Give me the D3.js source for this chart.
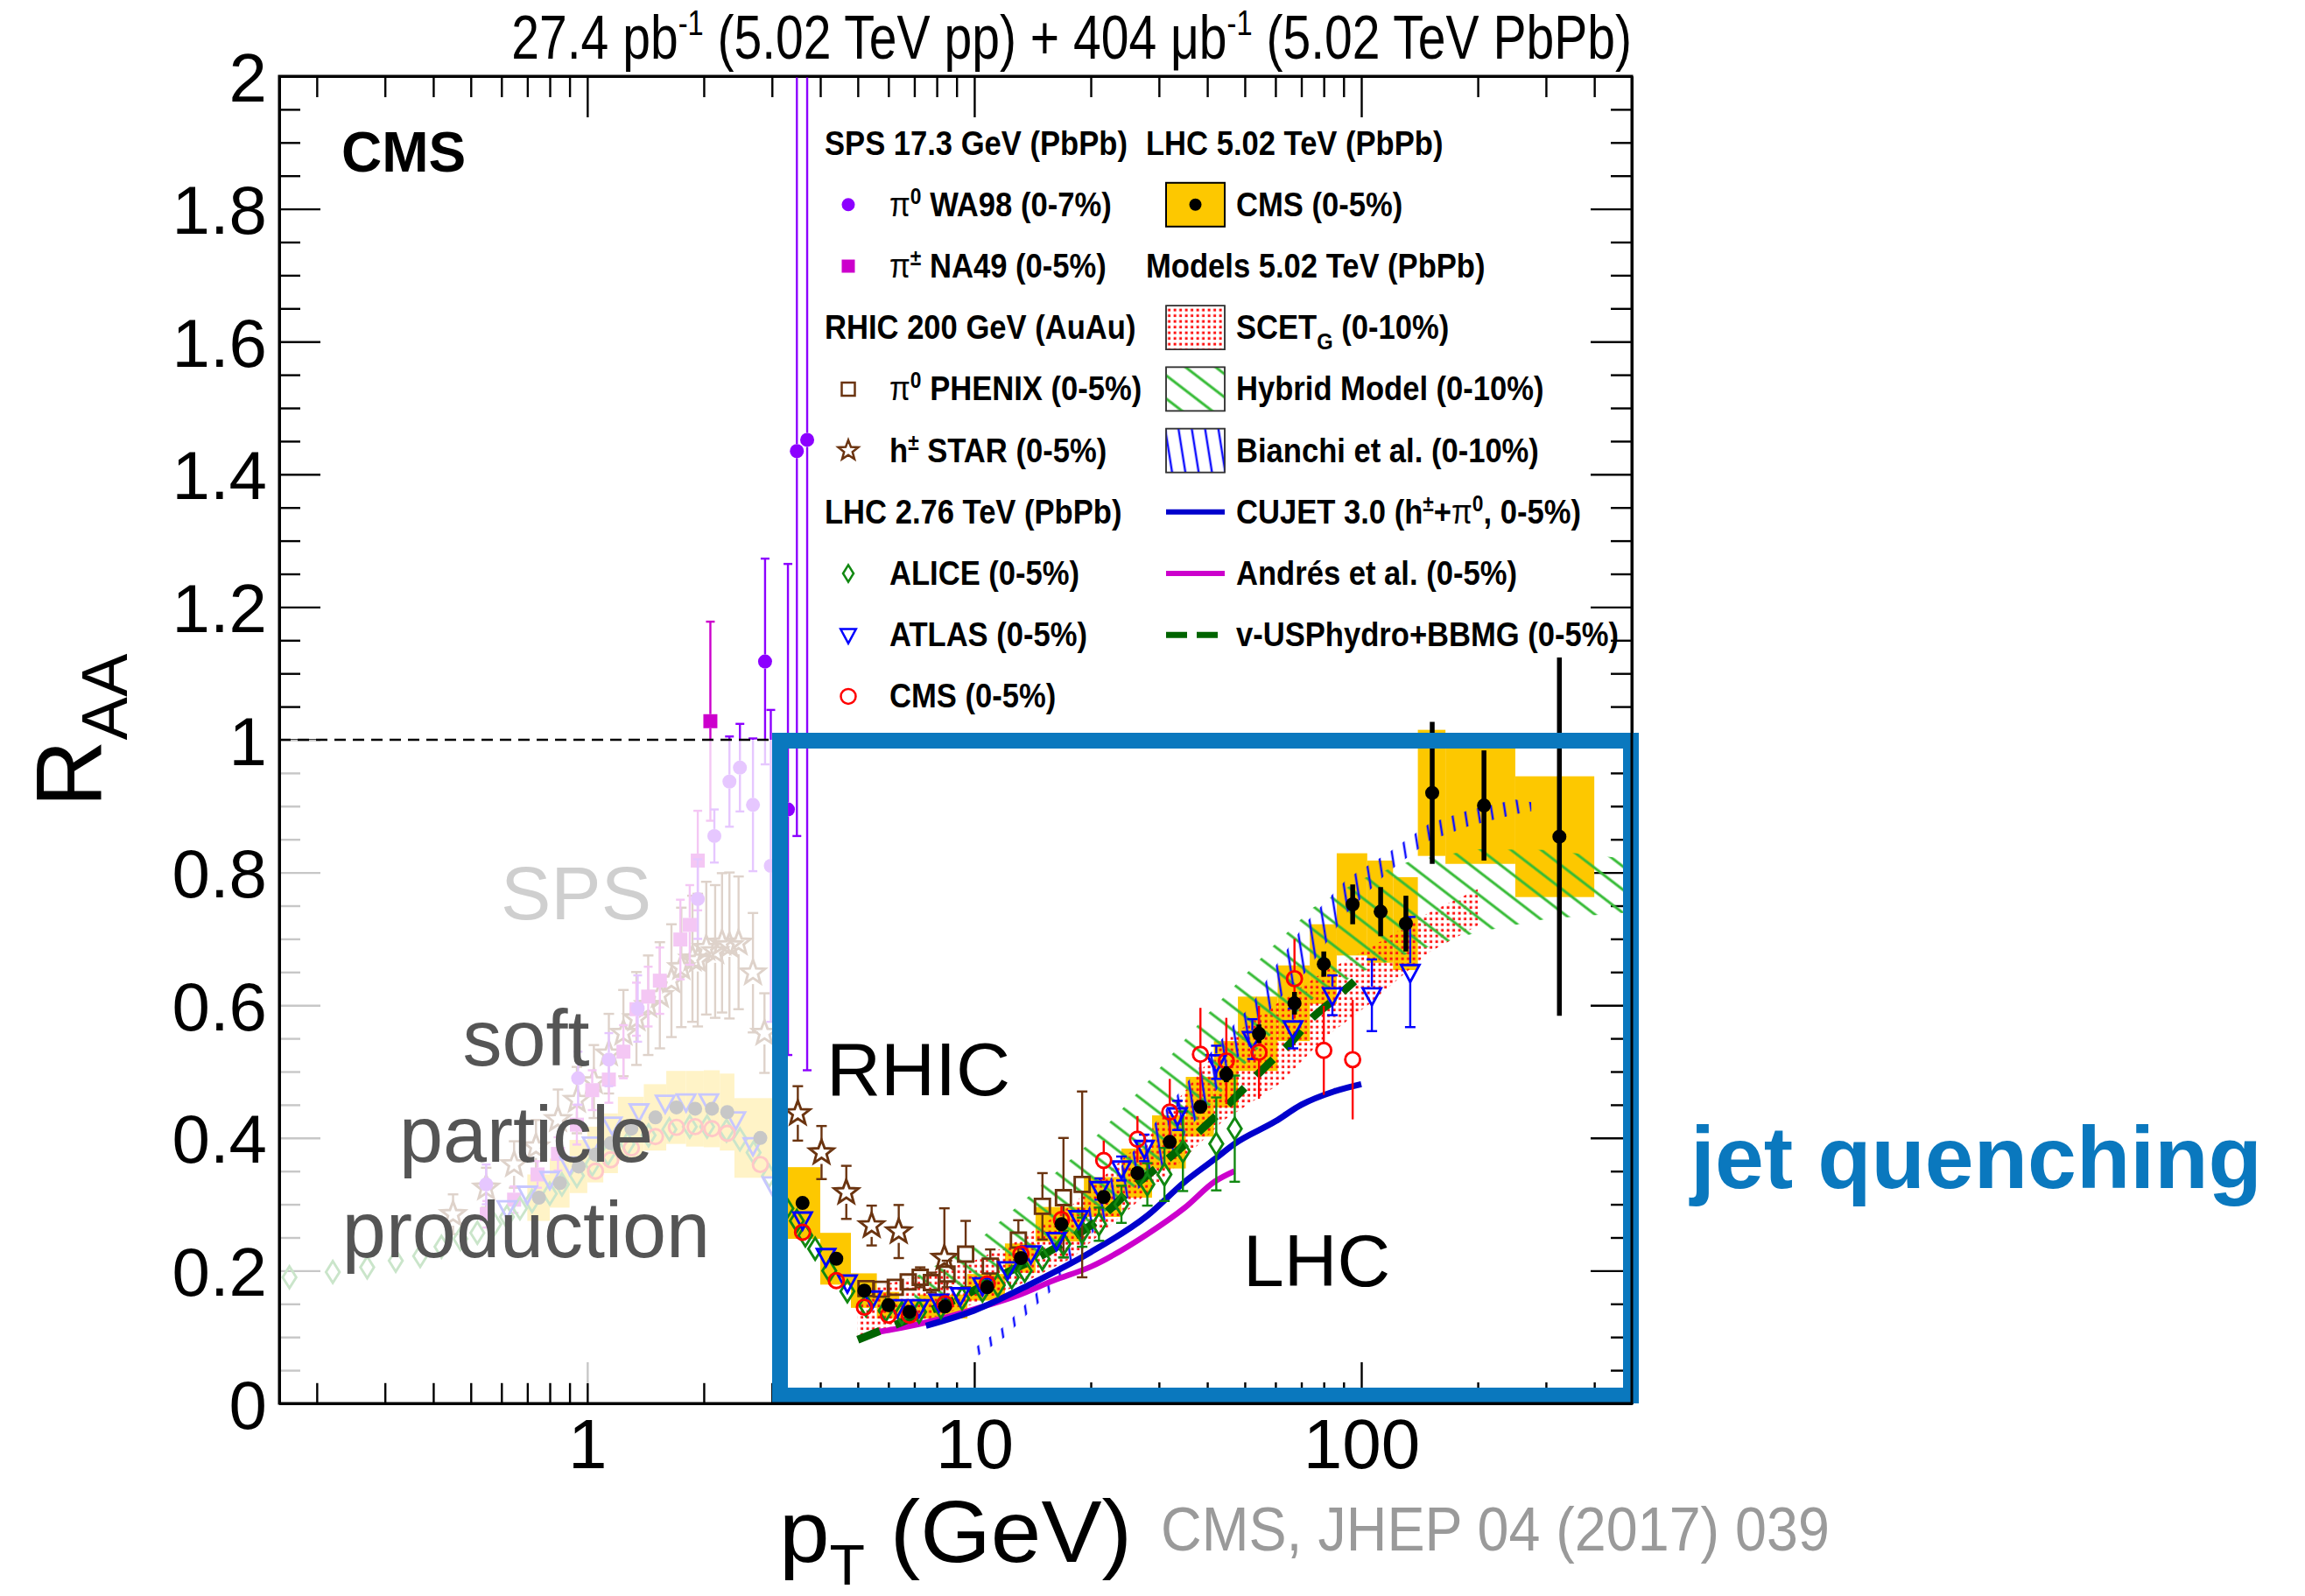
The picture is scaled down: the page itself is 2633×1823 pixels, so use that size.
<!DOCTYPE html>
<html><head><meta charset="utf-8">
<script src="https://cdn.jsdelivr.net/npm/d3@7"></script>
<style>body{margin:0;background:#fff}svg{display:block}</style>
</head><body>
<svg id="c" width="2633" height="1823"></svg>
<script>
// ---------------- DATA ----------------
// CMS 5.02 TeV PbPb 0-5%
const cmsEdges=[0.7,0.8,0.9,1.0,1.1,1.2,1.4,1.6,1.8,2.0,2.2,2.4,3.2,4.0,4.8,5.6,6.4,7.2,9.6,12.0,14.4,19.2,24.0,28.8,35.2,41.6,48.0,60.8,73.6,86.4,103.6,120.8,140.0,165.0,250.0,400.0];
const cmsPt=[0.75,0.85,0.95,1.05,1.15,1.3,1.5,1.7,1.9,2.1,2.3,2.8,3.6,4.4,5.2,6.0,6.8,8.4,10.8,13.2,16.8,21.6,26.4,32.0,38.4,44.8,54.4,67.2,80.0,95.0,112.2,130.4,152.5,207.5,325.0];
const cmsR=[0.31,0.332,0.357,0.375,0.392,0.414,0.431,0.446,0.444,0.444,0.439,0.40,0.302,0.218,0.170,0.148,0.138,0.146,0.175,0.219,0.270,0.311,0.347,0.394,0.447,0.496,0.557,0.603,0.662,0.752,0.741,0.723,0.920,0.901,0.854];
const cmsStat=[0.003,0.003,0.003,0.003,0.003,0.003,0.003,0.003,0.003,0.003,0.003,0.003,0.004,0.004,0.004,0.004,0.004,0.004,0.004,0.005,0.005,0.005,0.006,0.007,0.009,0.012,0.014,0.017,0.019,0.03,0.037,0.042,0.107,0.083,0.27];
const cmsSys=[0.035,0.037,0.04,0.042,0.045,0.048,0.05,0.055,0.057,0.058,0.058,0.06,0.054,0.039,0.026,0.02,0.018,0.018,0.02,0.022,0.026,0.03,0.037,0.04,0.045,0.05,0.056,0.057,0.06,0.077,0.077,0.07,0.095,0.088,0.091];
// CMS 2.76 TeV
const c276Pt=[1.05,1.15,1.3,1.5,1.7,1.9,2.1,2.3,2.8,3.6,4.4,5.2,6.0,6.8,8.4,10.8,13.2,16.8,21.6,26.4,32.0,38.4,44.8,54.4,67.2,80.0,95.0];
const c276R=[0.35,0.367,0.385,0.402,0.416,0.417,0.414,0.407,0.36,0.258,0.185,0.145,0.133,0.133,0.15,0.18,0.225,0.277,0.366,0.398,0.439,0.526,0.516,0.529,0.64,0.532,0.518];
const c276E=[0.005,0.005,0.005,0.005,0.005,0.005,0.005,0.005,0.005,0.005,0.005,0.005,0.005,0.005,0.005,0.01,0.012,0.02,0.03,0.035,0.05,0.07,0.065,0.07,0.06,0.067,0.09];
// ALICE 2.76 TeV
const aliPt=[0.17,0.22,0.27,0.32,0.37,0.42,0.47,0.52,0.575,0.62,0.67,0.72,0.8,0.86,0.94,1.03,1.13,1.27,1.44,1.63,1.84,2.04,2.29,2.48,2.69,2.95,3.27,3.48,3.66,3.88,4.22,4.7,5.25,5.9,6.5,7.2,8.2,9.3,10.5,11.5,12.5,13.5,15,17,19,21,24,28,31,34.6,42.2,47.1];
const aliR=[0.19,0.198,0.205,0.215,0.222,0.236,0.248,0.257,0.27,0.281,0.294,0.305,0.316,0.33,0.343,0.36,0.376,0.391,0.404,0.413,0.417,0.417,0.411,0.398,0.378,0.343,0.294,0.275,0.253,0.233,0.2,0.169,0.148,0.14,0.136,0.138,0.145,0.158,0.17,0.178,0.19,0.2,0.218,0.24,0.258,0.27,0.3,0.33,0.345,0.38,0.391,0.414];
const aliE=[0.006,0.006,0.006,0.006,0.006,0.006,0.006,0.006,0.006,0.006,0.006,0.006,0.006,0.006,0.006,0.006,0.006,0.006,0.006,0.006,0.006,0.006,0.006,0.006,0.006,0.006,0.006,0.006,0.006,0.006,0.006,0.006,0.006,0.006,0.006,0.006,0.006,0.006,0.01,0.012,0.014,0.015,0.018,0.02,0.022,0.025,0.028,0.032,0.04,0.06,0.07,0.08];
// ATLAS 2.76 TeV
const atlPt=[0.62,0.7,0.8,0.9,1.03,1.16,1.36,1.59,1.8,2.06,2.42,2.68,3.0,3.6,4.14,4.7,5.45,6.33,7.2,8.1,9.2,10.5,12.2,14.0,16.3,18.6,21.1,24,27.5,33.5,42.2,52.3,66.6,84.2,106.5,133.8];
const atlR=[0.294,0.316,0.338,0.36,0.39,0.42,0.44,0.453,0.455,0.455,0.428,0.389,0.33,0.277,0.222,0.182,0.158,0.145,0.145,0.153,0.163,0.178,0.202,0.226,0.246,0.279,0.323,0.354,0.385,0.434,0.514,0.549,0.565,0.615,0.615,0.65];
const atlE=[0.005,0.005,0.005,0.005,0.005,0.005,0.005,0.005,0.005,0.005,0.005,0.005,0.005,0.005,0.005,0.005,0.005,0.005,0.005,0.005,0.005,0.005,0.008,0.01,0.012,0.014,0.016,0.018,0.02,0.022,0.025,0.03,0.03,0.03,0.054,0.083];
// RHIC
const phxPt=[5.25,5.75,6.25,6.75,7.25,7.75,8.5,9.5,11,13,15,17,19];
const phxR=[0.173,0.172,0.175,0.183,0.19,0.182,0.195,0.225,0.207,0.246,0.297,0.31,0.33];
const phxE=[0.01,0.01,0.01,0.012,0.015,0.015,0.02,0.05,0.025,0.03,0.05,0.09,0.14];
const starPt=[0.45,0.548,0.647,0.737,0.84,0.94,1.04,1.137,1.24,1.34,1.437,1.54,1.65,1.75,1.87,1.93,2.03,2.14,2.23,2.33,2.46,2.68,2.87,3.5,4.03,4.67,5.43,6.38,8.37];
const starR=[0.285,0.325,0.36,0.387,0.428,0.457,0.485,0.527,0.558,0.58,0.60,0.615,0.637,0.657,0.67,0.668,0.686,0.681,0.694,0.69,0.694,0.649,0.558,0.437,0.378,0.318,0.268,0.259,0.219];
const starE=[0.03,0.03,0.035,0.04,0.045,0.05,0.055,0.06,0.065,0.07,0.075,0.08,0.085,0.09,0.095,0.1,0.1,0.1,0.105,0.11,0.1,0.09,0.06,0.041,0.04,0.04,0.03,0.04,0.075];
// SPS
const wa98Pt=[0.548,0.947,1.137,1.35,1.93,2.13,2.33,2.48,2.68,2.88,2.98,3.3,3.48,3.7];
const wa98R=[0.33,0.49,0.518,0.595,0.76,0.855,0.937,0.958,0.902,1.118,0.81,0.895,1.435,1.452];
const wa98E=[0.03,0.04,0.04,0.05,0.06,0.04,0.068,0.066,0.1,0.155,0.235,0.37,0.58,0.95];
const na49Pt=[0.55,0.647,0.744,0.84,0.94,1.03,1.137,1.24,1.34,1.437,1.54,1.74,1.84,1.93,2.08];
const na49R=[0.285,0.307,0.345,0.376,0.42,0.472,0.488,0.53,0.594,0.613,0.637,0.699,0.721,0.818,1.028];
const na49E=[0.02,0.02,0.02,0.025,0.03,0.03,0.035,0.04,0.04,0.045,0.05,0.06,0.06,0.075,0.15];
// Models
const scetPt=[5,7,10,13,18,26,35,44,62,80,105,150,200];
const scetLo=[0.102,0.12,0.15,0.178,0.22,0.30,0.37,0.426,0.483,0.55,0.602,0.68,0.72];
const scetHi=[0.17,0.19,0.215,0.245,0.30,0.385,0.47,0.545,0.607,0.65,0.686,0.74,0.775];
const hybPt=[7,10,14,20,27.5,39.4,57,75,100,135,200,300,500];
const hybLo=[0.15,0.17,0.21,0.27,0.34,0.44,0.55,0.61,0.65,0.68,0.71,0.73,0.74];
const hybHi=[0.19,0.24,0.315,0.394,0.479,0.582,0.68,0.747,0.79,0.818,0.835,0.834,0.82];
const bianPt=[10,12,14,16.2,18,20.4,25,30,41,47.6,52,59,72,92,117,150,190,250,275];
const bianLo=[0.068,0.10,0.14,0.175,0.215,0.26,0.31,0.35,0.46,0.52,0.54,0.60,0.65,0.74,0.80,0.848,0.87,0.888,0.892];
const bianHi=[0.083,0.117,0.158,0.195,0.25,0.31,0.37,0.43,0.53,0.576,0.60,0.653,0.725,0.791,0.829,0.874,0.894,0.91,0.906];
const cujPt=[7.5,10,14,20,28,35,42,47,60,70,85,100];
const cujR=[0.117,0.14,0.18,0.228,0.283,0.334,0.369,0.391,0.425,0.45,0.47,0.481];
const andPt=[5.4,6.5,8,10,13,16,20,28,35,42,47];
const andR=[0.106,0.114,0.126,0.142,0.163,0.185,0.206,0.255,0.295,0.335,0.35];
const usPt=[5,6.1,7.4,9.6,11.4,15.5,20.6,26.7,30.7,35.3,40,45.2,51,57.6,65.6,74.4,84,96];
const usR=[0.096,0.116,0.136,0.165,0.189,0.228,0.274,0.334,0.362,0.392,0.421,0.45,0.481,0.512,0.543,0.58,0.606,0.636];
// ticks
const yMajor=[0,0.2,0.4,0.6,0.8,1,1.2,1.4,1.6,1.8,2];
const yLabels=["0","0.2","0.4","0.6","0.8","1","1.2","1.4","1.6","1.8","2"];
const yMinor=[0.05,0.1,0.15,0.25,0.3,0.35,0.45,0.5,0.55,0.65,0.7,0.75,0.85,0.9,0.95,1.05,1.1,1.15,1.25,1.3,1.35,1.45,1.5,1.55,1.65,1.7,1.75,1.85,1.9,1.95];
const xMajor=[1,10,100];
const xLabels=["1","10","100"];
const xMinor=[0.2,0.3,0.4,0.5,0.6,0.7,0.8,0.9,2,3,4,5,6,7,8,9,20,30,40,50,60,70,80,90,200,300,400];

// ---------------- SETUP ----------------
const F="'Liberation Sans', Arial, Helvetica, sans-serif";
const svg=d3.select('#c');
const X0=319,X1=1864,Y0=1603,Y1=87;
const x=d3.scaleLog().domain([0.16,500]).range([X0,X1]);
const y=d3.scaleLinear().domain([0,2]).range([Y0,Y1]);
const defs=svg.append('defs');
defs.append('clipPath').attr('id','clip').append('rect').attr('x',X0).attr('y',Y1).attr('width',X1-X0).attr('height',Y0-Y1);
const pS=defs.append('pattern').attr('id','pScet').attr('patternUnits','userSpaceOnUse').attr('width',6.5).attr('height',6.5);
pS.append('rect').attr('x',1.6).attr('y',1.6).attr('width',3).attr('height',3).attr('fill','#ff1010');
const pH=defs.append('pattern').attr('id','pHyb').attr('patternUnits','userSpaceOnUse').attr('width',40).attr('height',21).attr('patternTransform','rotate(37.6)');
pH.append('line').attr('x1',0).attr('x2',40).attr('y1',10).attr('y2',10).attr('stroke','#35bb35').attr('stroke-width',2.8);
const pB=defs.append('pattern').attr('id','pBian').attr('patternUnits','userSpaceOnUse').attr('width',40).attr('height',15).attr('patternTransform','rotate(81)');
pB.append('line').attr('x1',0).attr('x2',40).attr('y1',7).attr('y2',7).attr('stroke','#1010ff').attr('stroke-width',2.4);

// ---------------- AXES ----------------
const ax=svg.append('g');
function styleAxis(g){g.selectAll('path.domain').attr('stroke','#000').attr('stroke-width',3);g.selectAll('line').attr('stroke','#000').attr('stroke-width',2.4);}
const gl=ax.append('g').attr('transform',`translate(${X0},0)`).call(d3.axisLeft(y).tickValues(yMajor).tickSize(-47).tickSizeOuter(0).tickPadding(14).tickFormat((d,i)=>yLabels[i]));
gl.selectAll('text').attr('font-family',F).attr('font-size',78).attr('fill','#000').attr('dy','0.36em');
styleAxis(gl);
styleAxis(ax.append('g').attr('transform',`translate(${X0},0)`).call(d3.axisLeft(y).tickValues(yMinor).tickSize(-24).tickSizeOuter(0).tickFormat('')));
styleAxis(ax.append('g').attr('transform',`translate(${X1},0)`).call(d3.axisRight(y).tickValues(yMajor).tickSize(-47).tickSizeOuter(0).tickFormat('')));
styleAxis(ax.append('g').attr('transform',`translate(${X1},0)`).call(d3.axisRight(y).tickValues(yMinor).tickSize(-24).tickSizeOuter(0).tickFormat('')));
const gb=ax.append('g').attr('transform',`translate(0,${Y0})`).call(d3.axisBottom(x).tickValues(xMajor).tickSize(-47).tickSizeOuter(0).tickPadding(0).tickFormat((d,i)=>xLabels[i]));
gb.selectAll('text').attr('font-family',F).attr('font-size',80).attr('fill','#000').attr('y',74).attr('dy',null);
styleAxis(gb);
styleAxis(ax.append('g').attr('transform',`translate(0,${Y0})`).call(d3.axisBottom(x).tickValues(xMinor).tickSize(-24).tickSizeOuter(0).tickFormat('')));
styleAxis(ax.append('g').attr('transform',`translate(0,${Y1})`).call(d3.axisTop(x).tickValues(xMajor).tickSize(-47).tickSizeOuter(0).tickFormat('')));
styleAxis(ax.append('g').attr('transform',`translate(0,${Y1})`).call(d3.axisTop(x).tickValues(xMinor).tickSize(-24).tickSizeOuter(0).tickFormat('')));

// ---------------- PLOT CONTENT ----------------
const P=svg.append('g').attr('clip-path','url(#clip)');
const zip=(a,b,c)=>a.map((v,i)=>({p:v,r:b[i],e:c?c[i]:0}));
const cmsData=cmsPt.map((v,i)=>({p:v,r:cmsR[i],e:cmsStat[i],s:cmsSys[i],lo:cmsEdges[i],hi:cmsEdges[i+1]}));
P.append('g').selectAll('rect').data(cmsData).join('rect')
 .attr('x',d=>x(d.lo)).attr('width',d=>x(d.hi)-x(d.lo))
 .attr('y',d=>y(d.r+d.s)).attr('height',d=>y(d.r-d.s)-y(d.r+d.s)).attr('fill','#fdc800');
const area=d3.area().x(d=>x(d.p)).y0(d=>y(d.lo)).y1(d=>y(d.hi));
const band=(pt,lo,hi)=>pt.map((v,i)=>({p:v,lo:lo[i],hi:hi[i]}));
P.append('path').datum(band(scetPt,scetLo,scetHi)).attr('d',area).attr('fill','url(#pScet)');
P.append('path').datum(band(hybPt,hybLo,hybHi)).attr('d',area).attr('fill','url(#pHyb)');
P.append('path').datum(band(bianPt,bianLo,bianHi)).attr('d',area).attr('fill','url(#pBian)');
const line=d3.line().x(d=>x(d.p)).y(d=>y(d.r)).curve(d3.curveMonotoneX);
P.append('path').datum(zip(andPt,andR)).attr('d',line).attr('fill','none').attr('stroke','#cc00cc').attr('stroke-width',6.5);
P.append('path').datum(zip(cujPt,cujR)).attr('d',line).attr('fill','none').attr('stroke','#0000cc').attr('stroke-width',7);
P.append('path').datum(zip(usPt,usR)).attr('d',line).attr('fill','none').attr('stroke','#006400').attr('stroke-width',9).attr('stroke-dasharray','27,19');

function starPath(R,r){let s='';for(let k=0;k<10;k++){const a=-Math.PI/2+k*Math.PI/5;const rr=k%2?r:R;s+=(k?'L':'M')+(rr*Math.cos(a)).toFixed(2)+','+(rr*Math.sin(a)).toFixed(2);}return s+'Z';}
const shapes={
 circle:r=>`M${-r},0A${r},${r} 0 1,0 ${r},0A${r},${r} 0 1,0 ${-r},0Z`,
 square:s=>`M${-s/2},${-s/2}h${s}v${s}h${-s}Z`,
 diamond:s=>`M0,${-s*0.8}L${s*0.5},0L0,${s*0.8}L${-s*0.5},0Z`,
 tri:s=>`M${-s*0.55},${-s*0.42}L${s*0.55},${-s*0.42}L0,${s*0.6}Z`,
 star:s=>starPath(s,s*0.42)
};
function series(g,data,o){
 const gg=g.append('g');
 gg.selectAll('g.eb').data(data.filter(d=>d.e>0)).join('g').each(function(d){
   const s=d3.select(this),cx=x(d.p),cy=y(d.r);
   const tp=y(d.r+d.e),bt=y(d.r-d.e);
   if(tp<cy-o.gap) s.append('line').attr('x1',cx).attr('x2',cx).attr('y1',tp).attr('y2',cy-o.gap);
   if(bt>cy+o.gap) s.append('line').attr('x1',cx).attr('x2',cx).attr('y1',cy+o.gap).attr('y2',bt);
   if(o.cap && d.e*758>o.gap+2){s.append('line').attr('x1',cx-o.cap).attr('x2',cx+o.cap).attr('y1',tp).attr('y2',tp);
     s.append('line').attr('x1',cx-o.cap).attr('x2',cx+o.cap).attr('y1',bt).attr('y2',bt);}
 }).selectAll('line').attr('stroke',o.color).attr('stroke-width',o.ew||2.4);
 gg.selectAll('path.m').data(data).join('path').attr('class','m')
  .attr('transform',d=>`translate(${x(d.p)},${y(d.r)})`).attr('d',shapes[o.shape](o.size))
  .attr('fill',o.fill?o.color:'none').attr('stroke',o.color).attr('stroke-width',o.fill?0:2.9);
}
series(P,zip(starPt,starR,starE),{shape:'star',size:14.5,color:'#6b3410',gap:13,cap:6});
series(P,zip(na49Pt,na49R,na49E),{shape:'square',size:16,color:'#cc00cc',fill:true,gap:8,cap:5});
series(P,zip(wa98Pt,wa98R,wa98E),{shape:'circle',size:8,color:'#8c00ff',fill:true,gap:8,cap:5});
series(P,zip(phxPt,phxR,phxE),{shape:'square',size:17,color:'#6b3410',gap:9,cap:6});
series(P,zip(aliPt,aliR,aliE),{shape:'diamond',size:15.5,color:'#118811',gap:12,cap:6});
series(P,zip(atlPt,atlR,atlE),{shape:'tri',size:19,color:'#0000ff',gap:10,cap:6});
series(P,zip(c276Pt,c276R,c276E),{shape:'circle',size:8.5,color:'#ff0000',gap:9});
series(P,cmsData,{shape:'circle',size:8,color:'#000',fill:true,gap:0,ew:5.5});

const xBox=891;
P.append('rect').attr('x',X0+2).attr('y',y(1)).attr('width',xBox-9-(X0+2)).attr('height',1580-y(1)).attr('fill','#fff').attr('opacity',0.78);
svg.append('line').attr('x1',X0).attr('x2',xBox).attr('y1',y(1)).attr('y2',y(1)).attr('stroke','#000').attr('stroke-width',2.5).attr('stroke-dasharray','13,8');

const T=svg.append('g').attr('font-family',F);
T.append('text').attr('x',658).attr('y',1050).attr('text-anchor','middle').attr('font-size',86).attr('fill','#cfcfcf').text('SPS');
[['soft',1217],['particle',1327],['production',1436]].forEach(([t,b])=>T.append('text').attr('x',601).attr('y',b).attr('text-anchor','middle').attr('font-size',90).attr('fill','#555').text(t));
T.append('text').attr('x',944).attr('y',1251).attr('font-size',86).attr('fill','#000').text('RHIC');
T.append('text').attr('x',1420).attr('y',1469).attr('font-size',84).attr('fill','#000').text('LHC');

const BLUE='#0a78be';
svg.append('rect').attr('x',xBox).attr('y',y(1)+1).attr('width',1863-xBox).attr('height',1594-y(1)-1).attr('fill','none').attr('stroke',BLUE).attr('stroke-width',18);
svg.append('rect').attr('x',X0).attr('y',Y1).attr('width',X1-X0).attr('height',Y0-Y1).attr('fill','none').attr('stroke','#000').attr('stroke-width',3);

function fit(t,w){const bw=t.node().getBBox().width;t.attr('transform',t.attr('transform')+` scale(${w/bw},1)`);}
const topTxt=T.append('text').attr('transform','translate(1864,67)').attr('text-anchor','end').attr('font-size',70).attr('fill','#000')
 .html('27.4 pb<tspan dy="-27" font-size="40">-1</tspan><tspan dy="27"> (5.02 TeV pp) + 404 μb</tspan><tspan dy="-27" font-size="40">-1</tspan><tspan dy="27"> (5.02 TeV PbPb)</tspan>');
fit(topTxt,1280);
T.append('text').attr('x',390).attr('y',196).attr('font-size',64).attr('font-weight','bold').attr('fill','#000').text('CMS');
const xt=T.append('text').attr('transform','translate(890,1784)').attr('font-size',100).attr('fill','#000')
 .html('p<tspan dy="26" font-size="64">T</tspan><tspan dy="-26"> (GeV)</tspan>');
fit(xt,403);
T.append('text').attr('transform','translate(115,922) rotate(-90)').attr('font-size',106).attr('fill','#000')
 .html('R<tspan dy="30" font-size="74">AA</tspan>');
const refTxt=T.append('text').attr('transform','translate(1326,1771)').attr('font-size',70).attr('fill','#9a9a9a').text('CMS, JHEP 04 (2017) 039');
fit(refTxt,764);
const jq=T.append('text').attr('transform','translate(1931,1357)').attr('font-size',100).attr('font-weight','bold').attr('fill',BLUE).text('jet quenching');
fit(jq,655);

// ---------------- LEGEND ----------------
const L=svg.append('g').attr('font-family',F).attr('font-weight','bold').attr('font-size',38);
const rowY=i=>163.6+i*70.2;
const leftRows=[
 {h:'SPS 17.3 GeV (PbPb)'},
 {m:'circle',c:'#8c00ff',f:true,s:7.5,t:'<tspan font-weight="normal">π</tspan><tspan dy="-14" font-size="25">0</tspan><tspan dy="14"> WA98 (0-7%)</tspan>'},
 {m:'square',c:'#cc00cc',f:true,s:15,t:'<tspan font-weight="normal">π</tspan><tspan dy="-14" font-size="25">±</tspan><tspan dy="14"> NA49 (0-5%)</tspan>'},
 {h:'RHIC 200 GeV (AuAu)'},
 {m:'square',c:'#6b3410',s:15,t:'<tspan font-weight="normal">π</tspan><tspan dy="-14" font-size="25">0</tspan><tspan dy="14"> PHENIX (0-5%)</tspan>'},
 {m:'star',c:'#6b3410',s:12,t:'h<tspan dy="-14" font-size="25">±</tspan><tspan dy="14"> STAR (0-5%)</tspan>'},
 {h:'LHC 2.76 TeV (PbPb)'},
 {m:'diamond',c:'#118811',s:12,t:'ALICE (0-5%)'},
 {m:'tri',c:'#0000ff',s:16,t:'ATLAS (0-5%)'},
 {m:'circle',c:'#ff0000',s:8.5,t:'CMS (0-5%)'}
];
leftRows.forEach((r,i)=>{
 const yy=rowY(i);
 if(r.h){L.append('text').attr('transform',`translate(942,${yy+13}) scale(0.91,1)`).text(r.h);return;}
 L.append('path').attr('transform',`translate(969,${yy})`).attr('d',shapes[r.m](r.s)).attr('fill',r.f?r.c:'none').attr('stroke',r.c).attr('stroke-width',r.f?0:2.5);
 L.append('text').attr('transform',`translate(1016,${yy+13}) scale(0.91,1)`).html(r.t);
});
const rightRows=[
 {h:'LHC 5.02 TeV (PbPb)'},
 {k:'cms',t:'CMS (0-5%)'},
 {h:'Models 5.02 TeV (PbPb)'},
 {k:'fill',p:'pScet',t:'SCET<tspan dy="12" font-size="26">G</tspan><tspan dy="-12"> (0-10%)</tspan>'},
 {k:'fill',p:'pHyb',t:'Hybrid Model (0-10%)'},
 {k:'fill',p:'pBian',t:'Bianchi et al. (0-10%)'},
 {k:'line',c:'#0000cc',t:'CUJET 3.0 (h<tspan dy="-14" font-size="25">±</tspan><tspan dy="14">+</tspan><tspan font-weight="normal">π</tspan><tspan dy="-14" font-size="25">0</tspan><tspan dy="14">, 0-5%)</tspan>'},
 {k:'line',c:'#cc00cc',t:'Andrés et al. (0-5%)'},
 {k:'dash',c:'#006400',t:'v-USPhydro+BBMG (0-5%)'}
];
rightRows.forEach((r,i)=>{
 const yy=rowY(i);
 if(r.h){L.append('text').attr('transform',`translate(1309,${yy+13}) scale(0.91,1)`).text(r.h);return;}
 if(r.k==='cms'){L.append('rect').attr('x',1332).attr('y',yy-25).attr('width',67).attr('height',50).attr('fill','#fdc800').attr('stroke','#000').attr('stroke-width',2);
   L.append('circle').attr('cx',1365.5).attr('cy',yy).attr('r',7).attr('fill','#000');}
 if(r.k==='fill'){L.append('rect').attr('x',1332).attr('y',yy-25).attr('width',67).attr('height',50).attr('fill','#fff').attr('stroke','#333').attr('stroke-width',1.5);
   L.append('rect').attr('x',1332).attr('y',yy-25).attr('width',67).attr('height',50).attr('fill',`url(#${r.p})`).attr('stroke','#333').attr('stroke-width',1.5);}
 if(r.k==='line'){L.append('line').attr('x1',1332).attr('x2',1399).attr('y1',yy).attr('y2',yy).attr('stroke',r.c).attr('stroke-width',6);}
 if(r.k==='dash'){L.append('line').attr('x1',1332).attr('x2',1399).attr('y1',yy).attr('y2',yy).attr('stroke',r.c).attr('stroke-width',7).attr('stroke-dasharray','24,11');}
 L.append('text').attr('transform',`translate(1412,${yy+13}) scale(0.91,1)`).html(r.t);
});
</script>
</body></html>
